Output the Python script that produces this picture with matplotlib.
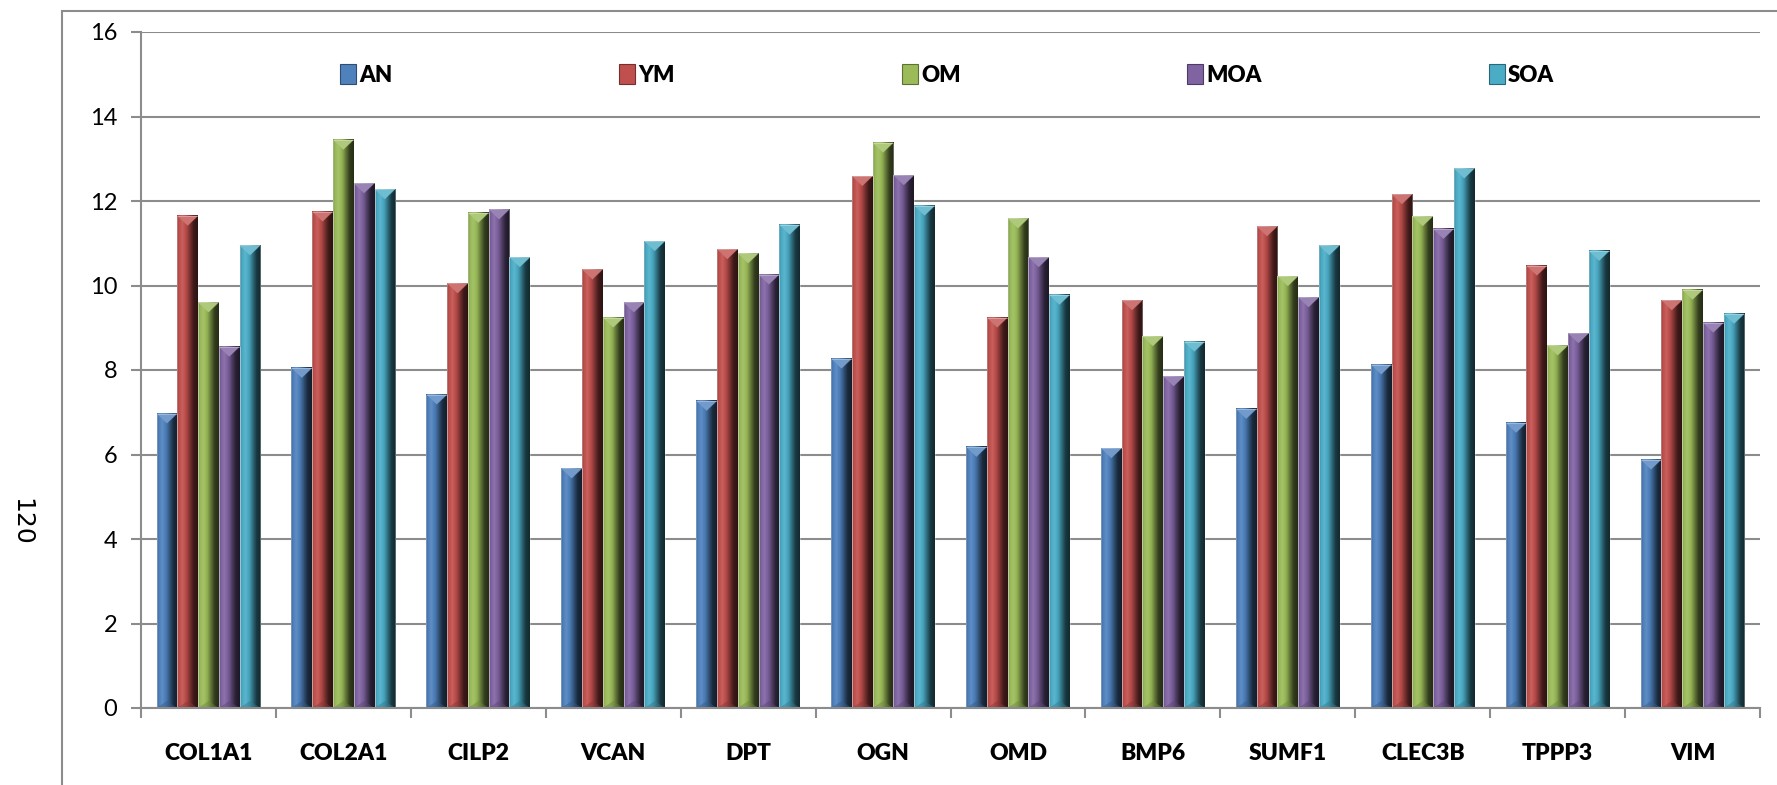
import numpy as np
import matplotlib.pyplot as plt
from matplotlib.colors import to_rgb
from matplotlib.patches import Polygon, Rectangle, Patch

# ---- data ----
genes = ["COL1A1", "COL2A1", "CILP2", "VCAN", "DPT", "OGN",
         "OMD", "BMP6", "SUMF1", "CLEC3B", "TPPP3", "VIM"]
groups = ["AN", "YM", "OM", "MOA", "SOA"]
an = [6.97, 8.05, 7.42, 5.67, 7.27, 8.27, 6.18, 6.15, 7.08, 8.13, 6.75, 5.88]
ym = [11.65, 11.75, 10.05, 10.38, 10.86, 12.59, 9.24, 9.65, 11.40, 12.16, 10.47, 9.65]
om = [9.60, 13.45, 11.72, 9.24, 10.76, 13.38, 11.59, 8.80, 10.22, 11.64, 8.58, 9.90]
moa = [8.55, 12.42, 11.80, 9.60, 10.26, 12.61, 10.67, 7.85, 9.72, 11.34, 8.87, 9.12]
soa = [10.95, 12.28, 10.67, 11.05, 11.44, 11.89, 9.78, 8.67, 10.95, 12.77, 10.82, 9.33]
series = [an, ym, om, moa, soa]
yticks = [0, 2, 4, 6, 8, 10, 12, 14, 16]

colors = ["#4F81BD", "#C0504D", "#9BBB59", "#8064A2", "#4BACC6"]
GRID = "#8c8c8c"
W, H = 1777, 785

label_font = ["Lato", "DejaVu Sans"]


def shade(c, f):
    c = np.array(to_rgb(c))
    if f <= 1:
        return c * f
    return c + (f - 1) * (1 - c)


# horizontal light profile across each bar (rounded/bevelled look)
prof_x = [0.0, 0.06, 0.25, 0.45, 0.62, 0.8, 1.0]
prof_f = [0.75, 0.95, 1.10, 0.92, 0.62, 0.33, 0.24]


def gradient_image(c, n=40):
    xs = np.linspace(0, 1, n)
    fs = np.interp(xs, prof_x, prof_f)
    img = np.array([shade(c, f) for f in fs])
    return np.clip(img[None, :, :], 0, 1)


fig = plt.figure(figsize=(W / 100, H / 100), dpi=100)
ax_left, ax_right = 141, 1760
ax_top, ax_bot = 32, 708
ax = fig.add_axes([ax_left / W, 1 - ax_bot / H,
                   (ax_right - ax_left) / W, (ax_bot - ax_top) / H])

ncat = len(genes)
nser = len(series)
bw = 1 / (nser + 1.5)
x = np.arange(ncat)
ymax = 16
px_per_unit = (ax_bot - ax_top) / ymax
tip = 10 / px_per_unit      # height of bevel triangle in data units
btip = 7 / px_per_unit

# gridlines
for t in yticks:
    ax.axhline(t, color=GRID, lw=1.5, zorder=0)

for k, (vals, col) in enumerate(zip(series, colors)):
    grad = gradient_image(col)
    for i, v in enumerate(vals):
        x0 = x[i] - 0.5 + 0.75 * bw + k * bw
        x1 = x0 + bw
        xc = (x0 + x1) / 2
        ax.imshow(grad, extent=[x0, x1, 0, v], aspect="auto",
                  interpolation="bilinear", zorder=2)
        # top bevel
        ax.add_patch(Polygon([(x0, v), (x1, v), (xc, v - tip)], closed=True,
                             facecolor=shade(col, 1.2), edgecolor="none", zorder=3))
        ax.add_patch(Polygon([(xc, v - tip), (x1, v), (x1 - bw * 0.12, v - tip * 0.3)],
                             closed=True, facecolor=shade(col, 0.85),
                             edgecolor="none", zorder=3, alpha=0.6))
        # bottom bevel
        ax.add_patch(Polygon([(x0, 0), (x1, 0), (xc, btip)], closed=True,
                             facecolor=shade(col, 0.7), edgecolor="none",
                             zorder=3, alpha=0.45))
        # soft light outline
        ax.add_patch(Rectangle((x0, 0), bw, v, fill=False,
                               edgecolor=(1, 1, 1, 0.35), lw=0.6, zorder=4))

ax.set_xlim(-0.5, ncat - 0.5)
ax.set_ylim(0, ymax)

for s in ["top", "right"]:
    ax.spines[s].set_visible(False)
for s in ["left", "bottom"]:
    ax.spines[s].set_color(GRID)
    ax.spines[s].set_linewidth(1.5)
    ax.spines[s].set_zorder(5)

ax.set_yticks(yticks)
ax.set_yticklabels([str(t) for t in yticks], family=label_font, fontsize=17)
ax.tick_params(axis="y", direction="out", length=7, width=1.5, color=GRID,
               pad=10, labelcolor="black")

# category boundaries carry the ticks, names sit in the middle
ax.set_xticks(np.arange(-0.5, ncat, 1.0))
ax.set_xticklabels([])
ax.tick_params(axis="x", which="major", direction="out", length=7,
               width=1.5, color=GRID)
ax.set_xticks(x, minor=True)
ax.set_xticklabels(genes, minor=True, family=label_font, fontsize=16.5,
                   fontweight="heavy")
ax.tick_params(axis="x", which="minor", length=0, pad=25)

# legend
handles = [Patch(facecolor=c, edgecolor=shade(c, 0.6), lw=0.8) for c in colors]
leg = fig.legend(handles, groups, ncol=5, frameon=False,
                 loc="center left", bbox_to_anchor=(340 / W, 1 - 75 / H),
                 borderpad=0, borderaxespad=0,
                 handlelength=0.72, handleheight=0.95, handletextpad=0.15,
                 columnspacing=10.2,
                 prop={"family": label_font, "weight": "heavy", "size": 16})

# chart frame
fig.patches.append(Rectangle((62 / W, -0.2), 2.0, (H - 11) / H + 0.2,
                             transform=fig.transFigure, fill=False,
                             edgecolor=GRID, lw=1.5, clip_on=False))

# page number in the margin
fig.text(21 / W, 1 - 522 / H, "120", rotation=-90, ha="center", va="center",
         fontsize=18, family=["Liberation Sans Narrow", "DejaVu Sans"])

fig.savefig("out.png", dpi=100)
